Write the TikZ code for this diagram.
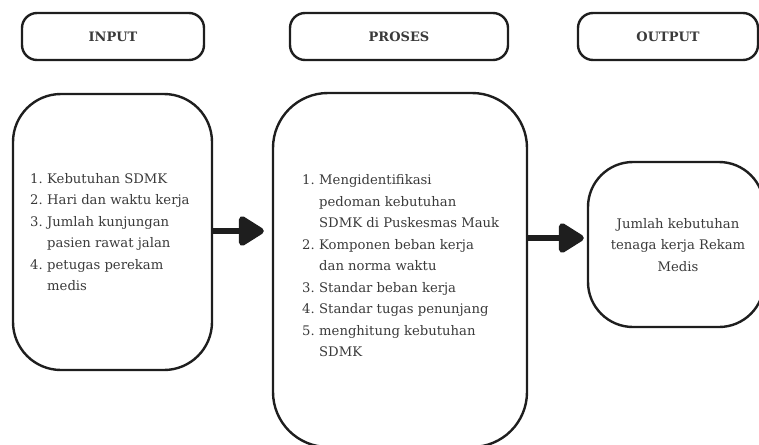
\documentclass[tikz,border=0pt]{standalone}
\usepackage{fontspec}
\setmainfont{DejaVu Serif}
\usetikzlibrary{arrows.meta}
\definecolor{txt}{HTML}{3A3A3A}
\definecolor{ln}{HTML}{1E1E1E}
\newcommand{\itm}[2]{\makebox[17pt][l]{#1}#2}
\newcommand{\cnt}[1]{\hspace*{17pt}#1}
\tikzset{
  hdr/.style={draw=ln, line width=2.4pt, rounded corners=15pt, inner sep=0pt, text=txt,
    font=\fontsize{13}{16}\selectfont\bfseries},
  bigbox/.style={draw=ln, line width=2.4pt, inner sep=0pt},
  listtxt/.style={text=txt, align=left, inner sep=0pt, font=\fontsize{13.2}{21.5}\selectfont},
  flow/.style={draw=ln, line width=6.5pt, -{Triangle[length=28pt,width=33pt,round]}}
}
\begin{document}
\begin{tikzpicture}[x=1pt,y=-1pt]
\useasboundingbox (0,0) rectangle (759,444);
% headers
\node[hdr, minimum width=182pt, minimum height=47pt] (hin) at (113,36.5) {INPUT};
\node[hdr, minimum width=218pt, minimum height=47pt] (hpr) at (399,36.5) {PROSES};
\node[hdr, minimum width=180pt, minimum height=47pt] (hout) at (668,36.5) {OUTPUT};
% big boxes
\begin{scope}
\clip (0,0) rectangle (759,444);
\node[bigbox, rounded corners=48pt, minimum width=199pt, minimum height=276pt] (bin) at (112.5,232) {};
\node[bigbox, rounded corners=55pt, minimum width=254pt, minimum height=354pt] (bpr) at (400,270) {};
\node[bigbox, rounded corners=45pt, minimum width=176pt, minimum height=165pt] (bout) at (676,244.5) {};
\end{scope}
% texts
\node[listtxt, anchor=west] (tin) at (30,232) {%
\itm{1.}{Kebutuhan SDMK}\\
\itm{2.}{Hari dan waktu kerja}\\
\itm{3.}{Jumlah kunjungan}\\
\cnt{pasien rawat jalan}\\
\itm{4.}{petugas perekam}\\
\cnt{medis}};
\node[listtxt, anchor=west] (tpr) at (302,266) {%
\itm{1.}{Mengidentifikasi}\\
\cnt{pedoman kebutuhan}\\
\cnt{SDMK di Puskesmas Mauk}\\
\itm{2.}{Komponen beban kerja}\\
\cnt{dan norma waktu}\\
\itm{3.}{Standar beban kerja}\\
\itm{4.}{Standar tugas penunjang}\\
\itm{5.}{menghitung kebutuhan}\\
\cnt{SDMK}};
\node[listtxt, align=center] (tout) at (678,245) {Jumlah kebutuhan\\tenaga kerja Rekam\\Medis};
% arrows
\draw[flow] (bin.east |- 0,231) -- ([xshift=-8pt]bpr.west |- 0,231);
\draw[flow] (bpr.east |- 0,238) -- ([xshift=-3pt]bout.west |- 0,238);
\end{tikzpicture}
\end{document}
